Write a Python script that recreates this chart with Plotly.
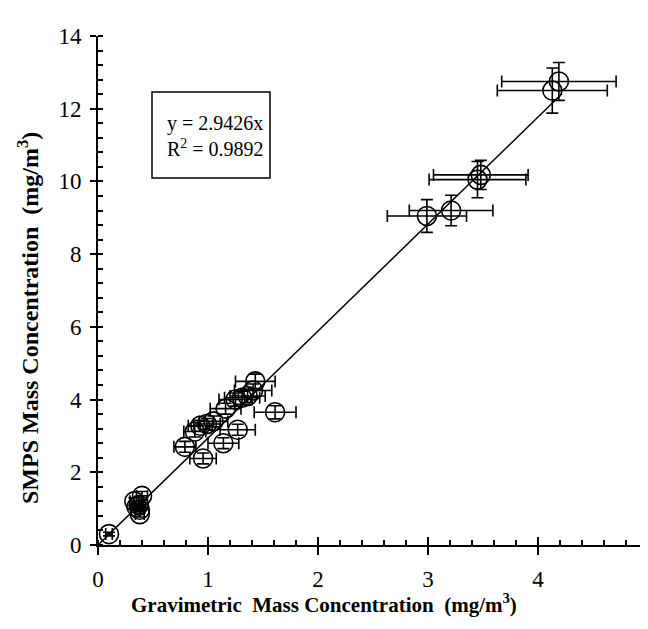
import plotly.graph_objects as go

# Gravimetric (x) vs SMPS (y) mass concentration, mg/m3
grav = [0.10, 0.33, 0.35, 0.37, 0.38, 0.40, 0.38,
        0.79, 0.88, 0.93, 0.955, 0.99, 1.05, 1.14, 1.16, 1.25, 1.27, 1.31, 1.36, 1.41, 1.43, 1.61,
        2.99, 3.21, 3.45, 3.48, 4.13, 4.19]
smps = [0.30, 1.20, 1.05, 1.10, 0.85, 1.35, 0.97,
        2.70, 3.12, 3.28, 2.38, 3.33, 3.40, 2.80, 3.75, 4.00, 3.17, 4.05, 4.10, 4.25, 4.50, 3.65,
        9.05, 9.20, 10.05, 10.18, 12.50, 12.75]
grav_err = [0.03, 0.04, 0.04, 0.04, 0.04, 0.05, 0.04,
            0.10, 0.10, 0.11, 0.12, 0.12, 0.13, 0.14, 0.14, 0.15, 0.16, 0.16, 0.16, 0.17, 0.18, 0.19,
            0.36, 0.38, 0.44, 0.43, 0.50, 0.52]
smps_err = [0.05, 0.10, 0.10, 0.10, 0.08, 0.12, 0.09,
            0.15, 0.15, 0.15, 0.15, 0.15, 0.15, 0.15, 0.15, 0.18, 0.15, 0.18, 0.18, 0.18, 0.2, 0.18,
            0.45, 0.42, 0.50, 0.40, 0.62, 0.52]

x_title = "<b>Gravimetric  Mass Concentration  (mg/m<sup>3</sup>)</b>"
y_title = "<b>SMPS Mass Concentration  (mg/m<sup>3</sup>)</b>"
fit_label = "y = 2.9426x<br>R<sup>2</sup> = 0.9892"

slope = 2.9426
fit_x = [0.0, 4.22]
fit_y = [slope * v for v in fit_x]

fnt = "Liberation Serif"

# page body has an 8px default margin -> figure is 640x621 so it fills 648x629
L, T, B = 90, 28, 84
PW, PH = 550, 509


def px(xp):
    return (xp - 98) / PW


def py(yp):
    return (545 - yp) / PH


fig = go.Figure()
fig.add_trace(go.Scatter(
    x=fit_x, y=fit_y, mode="lines",
    line=dict(color="black", width=1.5), showlegend=False, hoverinfo="skip"))
fig.add_trace(go.Scatter(
    x=grav, y=smps, mode="markers",
    marker=dict(symbol="circle-open", size=19, color="black", line=dict(width=1.6, color="black")),
    error_x=dict(type="data", array=grav_err, color="black", thickness=1.6, width=6),
    error_y=dict(type="data", array=smps_err, color="black", thickness=1.6, width=6),
    showlegend=False))

# regression box
fig.add_shape(type="rect", xref="paper", yref="paper",
              x0=px(152), x1=px(270), y0=py(178), y1=py(92),
              line=dict(color="black", width=1.5), fillcolor="white", layer="above")
fig.add_annotation(
    xref="paper", yref="paper", x=px(165), y=py(136), xanchor="left", yanchor="middle",
    text=fit_label, align="left", showarrow=False,
    font=dict(family=fnt, size=20, color="black"))

# axis titles placed as annotations (pixel-accurate placement)
fig.add_annotation(
    xref="paper", yref="paper", x=px(324), y=py(603),
    xanchor="center", yanchor="middle", text=x_title, showarrow=False,
    font=dict(family=fnt, size=21, color="black"))
fig.add_annotation(
    xref="paper", yref="paper", x=px(28), y=py(318),
    xanchor="center", yanchor="middle", text=y_title, showarrow=False, textangle=-90,
    font=dict(family=fnt, size=24, color="black"))

fig.update_layout(
    width=640, height=621,
    margin=dict(l=L, r=0, t=T, b=B, autoexpand=False),
    plot_bgcolor="white", paper_bgcolor="white",
    font=dict(family=fnt, size=23, color="black"),
    xaxis=dict(
        range=[0, 5], dtick=1, tick0=0, showgrid=False, zeroline=False,
        showline=True, linecolor="black", linewidth=2, automargin=False,
        ticks="outside", ticklen=8, tickwidth=2, tickcolor="black",
        ticklabeloverflow="allow", ticklabelstandoff=4,
        minor=dict(dtick=0.2, ticks="inside", ticklen=5, tickwidth=1.5, tickcolor="black"),
        tickfont=dict(family=fnt, size=23)),
    xaxis2=dict(
        range=[0, 5], dtick=1, tick0=0, overlaying="x", anchor="y", side="bottom",
        showgrid=False, zeroline=False, showline=False, showticklabels=False,
        ticks="inside", ticklen=8, tickwidth=2, tickcolor="black", automargin=False),
    yaxis=dict(
        range=[0, 14], dtick=2, tick0=0, showgrid=False, zeroline=False,
        showline=True, linecolor="black", linewidth=2, automargin=False,
        ticks="outside", ticklen=6, tickwidth=2, tickcolor="black",
        ticklabelstandoff=4, ticklabeloverflow="allow",
        minor=dict(dtick=0.4, ticks="inside", ticklen=5, tickwidth=1.5, tickcolor="black"),
        tickfont=dict(family=fnt, size=23)),
)
# invisible trace so the overlay axis (inside major ticks) is drawn
fig.add_trace(go.Scatter(x=[0], y=[0], xaxis="x2", yaxis="y", mode="markers",
                         marker=dict(opacity=0), showlegend=False, hoverinfo="skip"))

fig.write_html("out.html")
